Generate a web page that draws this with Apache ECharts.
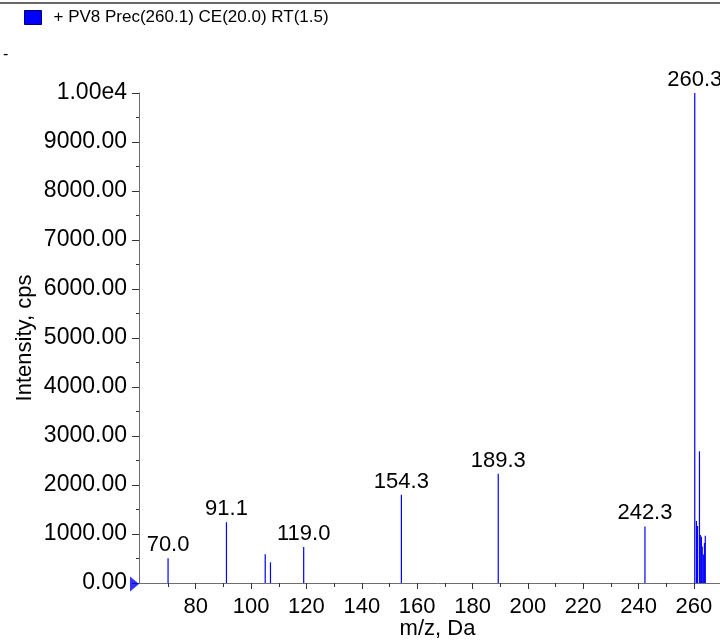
<!DOCTYPE html>
<html>
<head>
<meta charset="utf-8">
<script src="https://cdn.jsdelivr.net/npm/echarts@6/dist/echarts.min.js"></script>
<style>
html,body{margin:0;padding:0;background:#fff;overflow:hidden;width:720px;height:641px;}
#chart{width:736px;height:641px;}
</style>
</head>
<body>
<div id="chart"></div>
<script>
// ---- data ----
var seriesName = '+ PV8 Prec(260.1) CE(20.0) RT(1.5)';
var peakMz = [70.0, 91.1, 105.1, 107.0, 119.0, 154.3, 189.3, 242.3, 260.3, 260.9, 261.3, 262.0, 262.3, 262.7, 263.0, 263.4, 263.8, 264.1];
var peakIntensity = [505, 1240, 586, 422, 735, 1802, 2231, 1155, 10000, 1265, 1163, 2686, 980, 945, 747, 580, 816, 963];
var peakLabel = ['70.0', '91.1', '', '', '119.0', '154.3', '189.3', '242.3', '260.3', '', '', '', '', '', '', '', '', ''];
var xMajorTicks = [80, 100, 120, 140, 160, 180, 200, 220, 240, 260];
var xMinorTicks = [70, 90, 110, 130, 150, 170, 190, 210, 230, 250, 270];
var xAxisName = 'm/z, Da';
var yAxisName = 'Intensity, cps';

var FONT = '"Liberation Sans", Arial, sans-serif';
var xMin = 59.5, xMax = 275.2;

var barData = peakMz.map(function (m, i) {
  var item = { value: [m, peakIntensity[i]] };
  if (peakLabel[i]) {
    item.label = { show: true, formatter: peakLabel[i] };
  }
  return item;
});

var chart = echarts.init(document.getElementById('chart'), null, { renderer: 'canvas' });
chart.setOption({
  animation: false,
  backgroundColor: '#fff',
  textStyle: { fontFamily: FONT },
  grid: { left: 139, right: 0, top: 93, bottom: 58, containLabel: false, outerBoundsMode: 'none' },
  legend: {
    data: [seriesName],
    left: 19, top: 4,
    itemWidth: 17, itemHeight: 14,
    icon: 'rect',
    itemStyle: { borderColor: '#00007a', borderWidth: 1 },
    textStyle: { fontFamily: FONT, fontSize: 17, color: '#000', padding: [0, 0, 0, 7] }
  },
  xAxis: [{
    type: 'value', min: xMin, max: xMax,
    name: xAxisName, nameLocation: 'middle', nameGap: 35, nameMoveOverlap: false,
    nameTextStyle: { fontFamily: FONT, fontSize: 22, color: '#000' },
    axisLine: { show: true, lineStyle: { color: '#6e6e6e', width: 1 } },
    axisTick: { show: true, length: 6, lineStyle: { color: '#333' }, customValues: xMajorTicks },
    axisLabel: { show: true, fontFamily: FONT, fontSize: 22, color: '#000', margin: 13, customValues: xMajorTicks },
    splitLine: { show: false }
  }, {
    type: 'value', min: xMin, max: xMax, position: 'bottom',
    axisLine: { show: false },
    axisTick: { show: true, length: 4, lineStyle: { color: '#333' }, customValues: xMinorTicks },
    axisLabel: { show: false },
    splitLine: { show: false }
  }],
  yAxis: {
    type: 'value', min: 0, max: 10000, interval: 1000,
    name: yAxisName, nameLocation: 'middle', nameGap: 103, nameMoveOverlap: false,
    nameTextStyle: { fontFamily: FONT, fontSize: 22, color: '#000' },
    axisLine: { show: true, lineStyle: { color: '#6e6e6e', width: 1 } },
    axisTick: { show: true, length: 7, lineStyle: { color: '#333' } },
    minorTick: { show: true, splitNumber: 2, length: 3, lineStyle: { color: '#333' } },
    axisLabel: {
      fontFamily: FONT, fontSize: 23, color: '#000', margin: 12,
      formatter: function (v) { return v === 10000 ? '1.00e4' : v.toFixed(2); }
    },
    splitLine: { show: false }
  },
  series: [{
    name: seriesName,
    type: 'bar',
    xAxisIndex: 0,
    barWidth: 1.2,
    itemStyle: { color: '#0000ff' },
    label: { show: false, position: 'top', distance: 2, fontFamily: FONT, fontSize: 22, color: '#000' },
    data: barData
  }, {
    type: 'scatter',
    xAxisIndex: 0,
    clip: false,
    symbol: 'triangle',
    symbolSize: [15, 9],
    symbolRotate: -90,
    symbolOffset: [-4.5, 1],
    itemStyle: { color: '#0000ff' },
    silent: true,
    data: [[xMin, 0]]
  }],
  graphic: [{
    type: 'line', shape: { x1: 0, y1: 3, x2: 736, y2: 3 },
    style: { stroke: '#333', lineWidth: 1.5 }
  }, {
    type: 'text', left: 3, top: 47,
    style: { text: '-', fontFamily: FONT, fontSize: 16, fill: '#000' }
  }]
});
</script>
</body>
</html>
